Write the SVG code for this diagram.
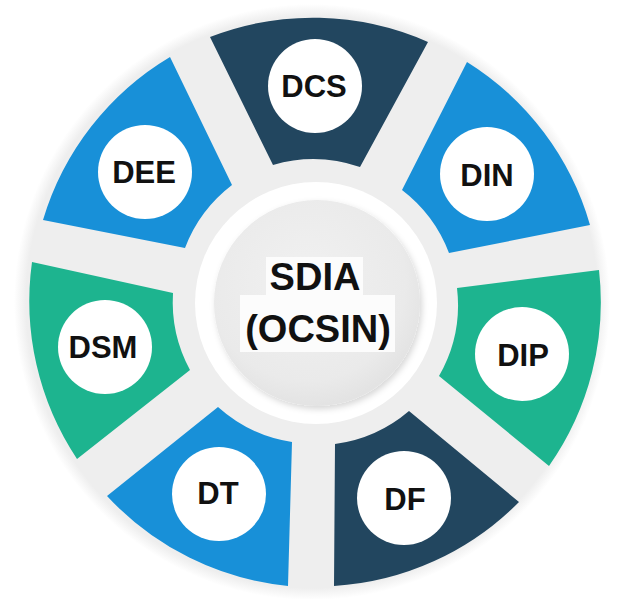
<svg xmlns="http://www.w3.org/2000/svg" width="622" height="599" viewBox="0 0 622 599">
<defs>
<radialGradient id="bg" cx="0.5" cy="0.5" r="0.5">
<stop offset="0.9" stop-color="#eeeeee"/>
<stop offset="0.96" stop-color="#eeeeee"/>
<stop offset="1" stop-color="#eeeeee" stop-opacity="0"/>
</radialGradient>
<radialGradient id="core" cx="0.45" cy="0.4" r="0.6">
<stop offset="0" stop-color="#f1f1f1"/>
<stop offset="0.8" stop-color="#eaeaea"/>
<stop offset="1" stop-color="#e3e3e3"/>
</radialGradient>
<filter id="sh" x="-20%" y="-20%" width="140%" height="140%">
<feDropShadow dx="2" dy="3" stdDeviation="3" flood-color="#000" flood-opacity="0.16"/>
</filter>
</defs>
<style>
.navy{fill:#22465f}
.blue{fill:#1890d8}
.teal{fill:#1db48f}
.badge{fill:#ffffff}
.lbl{font-family:"Liberation Sans",Arial,sans-serif;font-weight:bold;font-size:31px;fill:#111111;text-anchor:middle}
.big{font-family:"Liberation Sans",Arial,sans-serif;font-weight:bold;font-size:38px;fill:#111111;text-anchor:middle}
</style>
<rect width="622" height="599" fill="#ffffff"/>
<circle cx="312" cy="302" r="298" fill="url(#bg)"/>
<g id="connectors"/>
<g id="center">
<circle cx="316" cy="303" r="121" fill="#ffffff"/>
<circle cx="317" cy="303" r="103" fill="url(#core)" filter="url(#sh)"/>
<rect x="266" y="257" width="97" height="38" fill="#fcfcfc"/>
<rect x="240" y="295" width="155" height="57" fill="#fcfcfc"/>
<text class="big" x="315" y="290">SDIA</text>
<text class="big" x="318" y="342">(OCSIN)</text>
</g>
<g id="node-dcs">
<path class="navy" d="M210,37 A285,285 0 0 1 428,42 L360,167 A143,143 0 0 0 273,165 Z"/>
<circle class="badge" cx="315" cy="86" r="47"/>
<text class="lbl" x="314" y="97">DCS</text>
</g>
<g id="node-din">
<path class="blue" d="M467,62 A285,285 0 0 1 590,225 L449,253 A143,143 0 0 0 402,190 Z"/>
<circle class="badge" cx="487" cy="174" r="47"/>
<text class="lbl" x="487" y="186">DIN</text>
</g>
<g id="node-dip">
<path class="teal" d="M599,270 A285,285 0 0 1 549,466 L439,376 A143,143 0 0 0 457,288 Z"/>
<circle class="badge" cx="522" cy="354" r="47"/>
<text class="lbl" x="523" y="366">DIP</text>
</g>
<g id="node-df">
<path class="navy" d="M519,502 A285,285 0 0 1 334,586 L335,444 A143,143 0 0 0 409,411 Z"/>
<circle class="badge" cx="404" cy="498" r="47"/>
<text class="lbl" x="405" y="510">DF</text>
</g>
<g id="node-dt">
<path class="blue" d="M288,586 A285,285 0 0 1 107,496 L218,407 A143,143 0 0 0 292,442 Z"/>
<circle class="badge" cx="219" cy="494" r="47"/>
<text class="lbl" x="218" y="504">DT</text>
</g>
<g id="node-dsm">
<path class="teal" d="M77,459 A285,285 0 0 1 32,262 L173,293 A143,143 0 0 0 190,370 Z"/>
<circle class="badge" cx="105" cy="347" r="47"/>
<text class="lbl" x="103" y="358">DSM</text>
</g>
<g id="node-dee">
<path class="blue" d="M43,220 A285,285 0 0 1 170,57 L232,185 A143,143 0 0 0 185,248 Z"/>
<circle class="badge" cx="145" cy="172" r="47"/>
<text class="lbl" x="144" y="183">DEE</text>
</g>
</svg>
